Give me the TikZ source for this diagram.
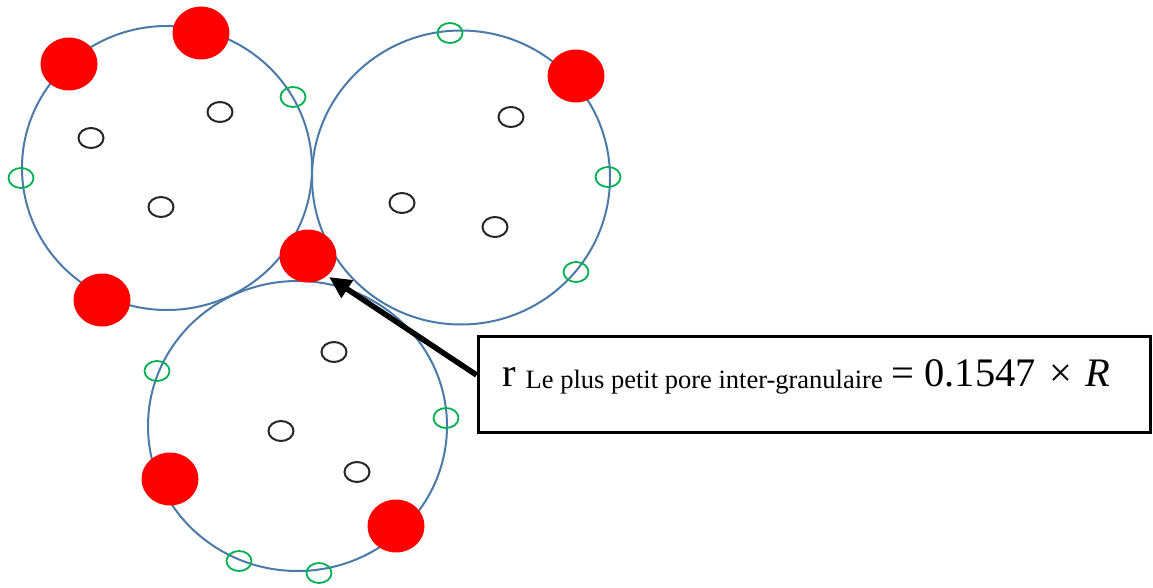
\documentclass[tikz,border=0pt]{standalone}
\usepackage{fontspec}
\setmainfont{Liberation Serif}
\usetikzlibrary{shapes.geometric,arrows.meta}
\definecolor{grainblue}{RGB}{74,122,168}
\definecolor{poregreen}{RGB}{0,176,80}
\definecolor{porered}{RGB}{255,0,0}
\tikzset{
  grain/.style={draw=grainblue,line width=2pt,ellipse,inner sep=0pt},
  redpore/.style={fill=porered,ellipse,inner sep=0pt,minimum width=57pt,minimum height=53pt},
  greenpore/.style={draw=poregreen,line width=1.8pt,ellipse,inner sep=0pt,minimum width=25pt,minimum height=20pt},
  blackpore/.style={draw=black!85,line width=2pt,ellipse,inner sep=0pt,minimum width=25pt,minimum height=20pt},
  labelbox/.style={draw=black,line width=3pt,inner sep=0pt,minimum width=672pt,minimum height=96pt},
  pointer/.style={line width=5.5pt,-{Triangle[length=22pt,width=20pt]}}
}
\newcommand{\bigtxt}{\fontsize{40.5}{44}\selectfont}
\newcommand{\subtxt}{\fontsize{26.5}{30}\selectfont}
\begin{document}
\begin{tikzpicture}[x=1pt,y=-1pt]
\useasboundingbox (0,0) rectangle (1153,588);
% grains
\node[grain,minimum width=290pt,minimum height=284pt] (g1) at (167,168) {};
\node[grain,minimum width=298pt,minimum height=294pt] (g2) at (461,177.5) {};
\node[grain,minimum width=299pt,minimum height=290pt] (g3) at (297.5,426) {};
% red pores
\node[redpore] (r1) at (69,64) {};
\node[redpore] (r2) at (201,33) {};
\node[redpore] (r3) at (576,76) {};
\node[redpore] (r4) at (102,300) {};
\node[redpore] (r5) at (308,256) {};
\node[redpore] (r6) at (170,479) {};
\node[redpore] (r7) at (396,526) {};
% green pores
\node[greenpore] (v1) at (450,33) {};
\node[greenpore] (v2) at (293,97) {};
\node[greenpore] (v3) at (21,178) {};
\node[greenpore] (v4) at (608,177) {};
\node[greenpore] (v5) at (576,272) {};
\node[greenpore] (v6) at (157,371) {};
\node[greenpore] (v7) at (446,418) {};
\node[greenpore] (v8) at (239,561) {};
\node[greenpore] (v9) at (319,573) {};
% black pores
\node[blackpore] (b1) at (91,138) {};
\node[blackpore] (b2) at (220,112) {};
\node[blackpore] (b3) at (161,207) {};
\node[blackpore] (b4) at (511,117) {};
\node[blackpore] (b5) at (402,203) {};
\node[blackpore] (b6) at (495,227) {};
\node[blackpore] (b7) at (334,352) {};
\node[blackpore] (b8) at (281,431) {};
\node[blackpore] (b9) at (357,472) {};
% label box
\node[labelbox] (box) at (814,384) {};
\node[anchor=base west,inner sep=0pt] (txt) at (502,386)
  {{\bigtxt r}\hspace{10pt}\raisebox{-2pt}{\subtxt Le plus petit pore inter-granulaire}\hspace{9pt}{\bigtxt =\hspace{10pt}0.1547\hspace{14pt}×\hspace{13pt}\textit{R}}};
\coordinate (tip) at (329,277);
\draw[pointer] ([yshift=9pt]box.west) -- (tip);
\end{tikzpicture}
\end{document}
